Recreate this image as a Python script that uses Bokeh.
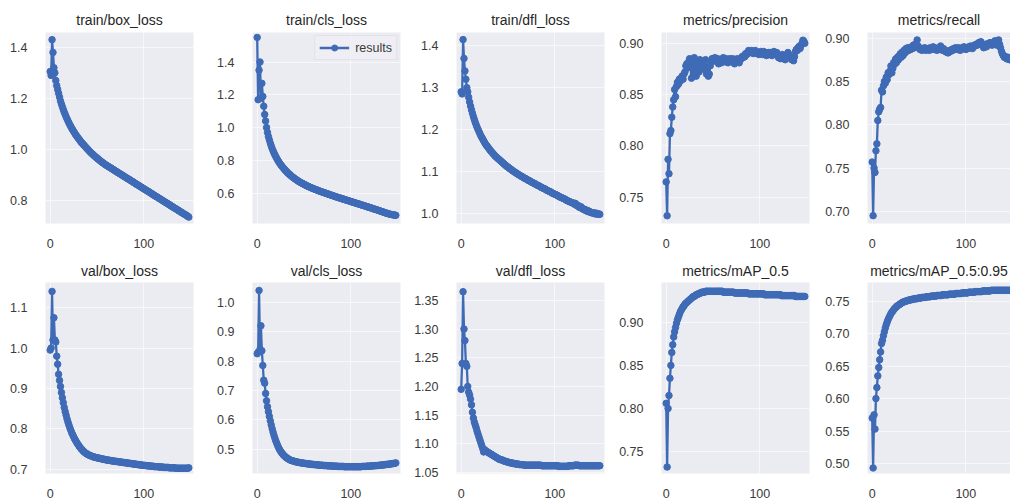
from bokeh.plotting import figure
from bokeh.layouts import column, row
from bokeh.models import Range1d, FixedTicker, PrintfTickFormatter
from bokeh.embed import file_html
from bokeh.resources import INLINE

# ---------------- data ----------------
train_box_loss = [
    1.305, 1.29, 1.43, 1.38, 1.32, 1.30, 1.27, 1.25, 1.235, 1.22,
    1.205, 1.19, 1.178, 1.167, 1.156, 1.146, 1.137, 1.128, 1.12, 1.112,
    1.104, 1.097, 1.09, 1.083, 1.077, 1.071, 1.065, 1.059, 1.054, 1.049,
    1.044, 1.039, 1.034, 1.029, 1.025, 1.021, 1.017, 1.013, 1.009, 1.005,
    1.001, 0.997, 0.993, 0.989, 0.986, 0.982, 0.979, 0.975, 0.972, 0.969,
    0.966, 0.963, 0.96, 0.957, 0.954, 0.951, 0.948, 0.946, 0.943, 0.94,
    0.938, 0.936, 0.933, 0.931, 0.929, 0.927, 0.924, 0.922, 0.920, 0.917,
    0.915, 0.913, 0.910, 0.908, 0.906, 0.904, 0.901, 0.899, 0.897, 0.894,
    0.892, 0.890, 0.887, 0.885, 0.883, 0.881, 0.878, 0.876, 0.874, 0.871,
    0.869, 0.867, 0.864, 0.862, 0.860, 0.858, 0.855, 0.853, 0.851, 0.848,
    0.846, 0.844, 0.841, 0.839, 0.837, 0.835, 0.832, 0.830, 0.828, 0.825,
    0.823, 0.821, 0.818, 0.816, 0.814, 0.812, 0.809, 0.807, 0.805, 0.802,
    0.800, 0.798, 0.795, 0.793, 0.791, 0.789, 0.786, 0.784, 0.782, 0.779,
    0.777, 0.775, 0.772, 0.770, 0.768, 0.766, 0.763, 0.761, 0.759, 0.756,
    0.754, 0.752, 0.749, 0.747, 0.745, 0.743, 0.740, 0.738, 0.735]

train_cls_loss = [
    1.55, 1.17, 1.35, 1.40, 1.18, 1.27, 1.19, 1.13, 1.08, 1.04,
    1.00, 0.97, 0.945, 0.925, 0.905, 0.888, 0.872, 0.858, 0.845, 0.833,
    0.822, 0.811, 0.801, 0.792, 0.783, 0.775, 0.767, 0.76, 0.753, 0.746,
    0.74, 0.734, 0.728, 0.722, 0.717, 0.712, 0.707, 0.702, 0.698, 0.693,
    0.689, 0.685, 0.681, 0.677, 0.673, 0.67, 0.666, 0.663, 0.66, 0.657,
    0.654, 0.651, 0.648, 0.645, 0.642, 0.64, 0.637, 0.635, 0.632, 0.63,
    0.628, 0.625, 0.623, 0.621, 0.619, 0.616, 0.614, 0.612, 0.61, 0.608,
    0.606, 0.604, 0.602, 0.60, 0.598, 0.596, 0.594, 0.592, 0.59, 0.588,
    0.586, 0.584, 0.582, 0.58, 0.578, 0.576, 0.574, 0.573, 0.571, 0.569,
    0.567, 0.565, 0.564, 0.562, 0.56, 0.558, 0.556, 0.555, 0.553, 0.551,
    0.549, 0.547, 0.545, 0.544, 0.542, 0.54, 0.538, 0.536, 0.535, 0.533,
    0.531, 0.529, 0.527, 0.526, 0.524, 0.522, 0.52, 0.518, 0.516, 0.515,
    0.513, 0.511, 0.509, 0.507, 0.505, 0.503, 0.501, 0.50, 0.498, 0.496,
    0.494, 0.492, 0.49, 0.488, 0.486, 0.484, 0.482, 0.48, 0.478, 0.476,
    0.475, 0.473, 0.471, 0.47, 0.469, 0.468, 0.467, 0.466, 0.465]

train_dfl_loss = [
    1.29, 1.285, 1.415, 1.37, 1.34, 1.32, 1.30, 1.29, 1.277, 1.266,
    1.256, 1.247, 1.239, 1.231, 1.224, 1.217, 1.211, 1.205, 1.2, 1.195,
    1.19, 1.185, 1.181, 1.177, 1.173, 1.169, 1.165, 1.162, 1.159, 1.156,
    1.153, 1.15, 1.147, 1.145, 1.142, 1.14, 1.137, 1.135, 1.133, 1.131,
    1.129, 1.127, 1.125, 1.123, 1.121, 1.119, 1.117, 1.115, 1.113, 1.111,
    1.11, 1.108, 1.106, 1.105, 1.103, 1.101, 1.10, 1.098, 1.097, 1.095,
    1.094, 1.092, 1.091, 1.09, 1.088, 1.087, 1.086, 1.084, 1.083, 1.082,
    1.081, 1.079, 1.078, 1.077, 1.076, 1.074, 1.073, 1.072, 1.071, 1.07,
    1.068, 1.067, 1.066, 1.065, 1.064, 1.062, 1.061, 1.06, 1.059, 1.058,
    1.057, 1.055, 1.054, 1.053, 1.052, 1.051, 1.05, 1.048, 1.047, 1.046,
    1.045, 1.044, 1.043, 1.042, 1.04, 1.039, 1.038, 1.037, 1.036, 1.035,
    1.034, 1.033, 1.031, 1.03, 1.029, 1.028, 1.027, 1.026, 1.025, 1.024,
    1.024, 1.021, 1.023, 1.019, 1.017, 1.018, 1.014, 1.013, 1.015, 1.011,
    1.01, 1.008, 1.009, 1.006, 1.005, 1.006, 1.003, 1.004, 1.002, 1.001,
    1.0, 1.001, 0.999, 0.998, 1.0, 0.998, 0.997, 0.998, 0.997]

precision = [
    0.765, 0.732, 0.787, 0.773, 0.812, 0.815, 0.828, 0.838, 0.845, 0.855,
    0.848, 0.858, 0.862, 0.86, 0.865, 0.863, 0.866, 0.868, 0.865, 0.87,
    0.872, 0.878, 0.88, 0.876, 0.882, 0.885, 0.878, 0.866, 0.884, 0.87,
    0.886, 0.88, 0.868, 0.882, 0.876, 0.872, 0.884, 0.878, 0.88, 0.875,
    0.88, 0.878, 0.884, 0.87, 0.875, 0.868, 0.87, 0.878, 0.882, 0.885,
    0.883, 0.885, 0.886, 0.884, 0.882, 0.885, 0.88, 0.883, 0.884, 0.881,
    0.883, 0.886, 0.884, 0.882, 0.885, 0.884, 0.881, 0.883, 0.885, 0.884,
    0.882, 0.885, 0.883, 0.88, 0.884, 0.882, 0.885, 0.883, 0.881, 0.884,
    0.885, 0.887, 0.886, 0.888, 0.887, 0.89, 0.889, 0.891, 0.893, 0.892,
    0.891, 0.893, 0.892, 0.89, 0.891, 0.893, 0.892, 0.89, 0.891, 0.889,
    0.891, 0.892, 0.89, 0.889, 0.892, 0.891, 0.89, 0.888, 0.89, 0.891,
    0.889, 0.891, 0.889, 0.888, 0.891, 0.892, 0.89, 0.889, 0.891, 0.889,
    0.886, 0.887, 0.885, 0.888, 0.889, 0.887, 0.885, 0.884, 0.887, 0.889,
    0.891, 0.889, 0.887, 0.886, 0.884, 0.885, 0.883, 0.887, 0.892, 0.894,
    0.893, 0.896, 0.897, 0.895, 0.898, 0.9, 0.903, 0.902, 0.9]

recall = [
    0.757, 0.695, 0.75, 0.745, 0.77, 0.778, 0.805, 0.815, 0.818, 0.82,
    0.84, 0.838, 0.845, 0.85, 0.848, 0.855, 0.852, 0.86, 0.858, 0.862,
    0.868, 0.86, 0.865, 0.872, 0.87, 0.876, 0.872, 0.878, 0.875, 0.88,
    0.882, 0.878, 0.884, 0.88, 0.886, 0.883, 0.888, 0.885, 0.889, 0.886,
    0.889, 0.887, 0.89, 0.888, 0.892, 0.889, 0.893, 0.89, 0.898, 0.891,
    0.889, 0.887, 0.888, 0.886, 0.888, 0.887, 0.889, 0.886, 0.888, 0.887,
    0.888, 0.886, 0.889, 0.887, 0.888, 0.89, 0.887, 0.889, 0.888, 0.886,
    0.888, 0.887, 0.889, 0.891, 0.888, 0.886, 0.888, 0.887, 0.885, 0.884,
    0.885, 0.883, 0.884, 0.886, 0.885, 0.887, 0.886, 0.888, 0.887, 0.889,
    0.888, 0.887, 0.889, 0.888, 0.886, 0.887, 0.889, 0.888, 0.89, 0.889,
    0.887, 0.889, 0.888, 0.89, 0.889, 0.891, 0.89, 0.888, 0.89, 0.892,
    0.891, 0.893, 0.892, 0.894, 0.895, 0.893, 0.896, 0.894, 0.892, 0.889,
    0.891, 0.893, 0.89, 0.892, 0.894, 0.893, 0.895, 0.894, 0.892, 0.893,
    0.895, 0.897, 0.894, 0.892, 0.896, 0.898, 0.893, 0.889, 0.885, 0.882,
    0.88, 0.878, 0.879, 0.877, 0.876, 0.878, 0.876, 0.875, 0.876]

val_box_loss = [
    0.995, 1.0, 1.14, 1.02, 1.075, 1.02, 1.015, 0.98, 0.96, 0.935,
    0.92, 0.905, 0.89, 0.877, 0.865, 0.853, 0.843, 0.834, 0.825, 0.817,
    0.81, 0.803, 0.797, 0.791, 0.786, 0.781, 0.776, 0.772, 0.768, 0.764,
    0.761, 0.757, 0.754, 0.751, 0.749, 0.746, 0.744, 0.742, 0.74, 0.739,
    0.737, 0.736, 0.735, 0.734, 0.733, 0.732, 0.731, 0.731, 0.73, 0.729,
    0.729, 0.728, 0.728, 0.727, 0.727, 0.726, 0.726, 0.725, 0.725, 0.724,
    0.724, 0.723, 0.723, 0.723, 0.722, 0.722, 0.721, 0.721, 0.721, 0.72,
    0.72, 0.72, 0.719, 0.719, 0.719, 0.718, 0.718, 0.718, 0.717, 0.717,
    0.717, 0.716, 0.716, 0.716, 0.715, 0.715, 0.715, 0.714, 0.714, 0.714,
    0.713, 0.713, 0.713, 0.712, 0.712, 0.712, 0.711, 0.711, 0.711, 0.71,
    0.71, 0.71, 0.71, 0.709, 0.709, 0.709, 0.709, 0.708, 0.708, 0.708,
    0.708, 0.707, 0.707, 0.707, 0.707, 0.707, 0.706, 0.706, 0.706, 0.706,
    0.706, 0.705, 0.705, 0.705, 0.705, 0.705, 0.705, 0.704, 0.704, 0.704,
    0.704, 0.704, 0.704, 0.704, 0.703, 0.703, 0.703, 0.703, 0.703, 0.703,
    0.703, 0.703, 0.703, 0.703, 0.703, 0.703, 0.703, 0.703, 0.704]

val_cls_loss = [
    0.825, 0.83, 1.04, 0.84, 0.92, 0.835, 0.785, 0.735, 0.725, 0.69,
    0.665, 0.645, 0.628, 0.612, 0.597, 0.583, 0.57, 0.558, 0.547, 0.537,
    0.528, 0.52, 0.512, 0.505, 0.499, 0.494, 0.489, 0.485, 0.481, 0.478,
    0.475, 0.472, 0.47, 0.468, 0.466, 0.464, 0.463, 0.462, 0.461, 0.46,
    0.459, 0.458, 0.457, 0.457, 0.456, 0.455, 0.455, 0.454, 0.454, 0.453,
    0.453, 0.452, 0.452, 0.451, 0.451, 0.45, 0.45, 0.45, 0.449, 0.449,
    0.449, 0.448, 0.448, 0.448, 0.447, 0.447, 0.447, 0.446, 0.446, 0.446,
    0.446, 0.445, 0.445, 0.445, 0.445, 0.444, 0.444, 0.444, 0.444, 0.444,
    0.443, 0.443, 0.443, 0.443, 0.443, 0.443, 0.442, 0.442, 0.442, 0.442,
    0.442, 0.442, 0.442, 0.441, 0.441, 0.441, 0.441, 0.441, 0.441, 0.441,
    0.441, 0.441, 0.441, 0.441, 0.441, 0.441, 0.441, 0.441, 0.441, 0.441,
    0.441, 0.441, 0.442, 0.442, 0.442, 0.442, 0.442, 0.443, 0.443, 0.443,
    0.443, 0.443, 0.444, 0.444, 0.444, 0.444, 0.445, 0.445, 0.445, 0.445,
    0.446, 0.446, 0.446, 0.447, 0.447, 0.447, 0.448, 0.448, 0.449, 0.449,
    0.449, 0.45, 0.45, 0.451, 0.451, 0.452, 0.452, 0.453, 0.454]

val_dfl_loss = [
    1.195, 1.24, 1.365, 1.30, 1.28, 1.24, 1.235, 1.20, 1.19, 1.185,
    1.178, 1.168, 1.155, 1.145, 1.138, 1.133, 1.128, 1.122, 1.117, 1.112,
    1.107, 1.102, 1.097, 1.092, 1.086, 1.09, 1.088, 1.087, 1.086, 1.085,
    1.084, 1.083, 1.082, 1.081, 1.08, 1.079, 1.078, 1.077, 1.076, 1.075,
    1.074, 1.073, 1.073, 1.072, 1.072, 1.071, 1.07, 1.07, 1.069, 1.069,
    1.068, 1.068, 1.067, 1.067, 1.067, 1.066, 1.066, 1.066, 1.065, 1.065,
    1.065, 1.065, 1.064, 1.064, 1.064, 1.064, 1.064, 1.063, 1.063, 1.063,
    1.063, 1.063, 1.063, 1.063, 1.063, 1.063, 1.063, 1.063, 1.063, 1.063,
    1.063, 1.063, 1.063, 1.063, 1.063, 1.063, 1.062, 1.062, 1.062, 1.062,
    1.062, 1.062, 1.062, 1.062, 1.062, 1.062, 1.062, 1.062, 1.062, 1.062,
    1.062, 1.062, 1.062, 1.062, 1.061, 1.061, 1.061, 1.061, 1.061, 1.061,
    1.061, 1.061, 1.061, 1.061, 1.061, 1.062, 1.062, 1.062, 1.062, 1.062,
    1.062, 1.063, 1.063, 1.063, 1.063, 1.063, 1.062, 1.062, 1.062, 1.062,
    1.062, 1.062, 1.062, 1.062, 1.062, 1.062, 1.062, 1.062, 1.062, 1.062,
    1.062, 1.062, 1.062, 1.062, 1.062, 1.062, 1.062, 1.062, 1.062]

map50 = [
    0.806, 0.732, 0.80, 0.815, 0.835, 0.85, 0.865, 0.874, 0.883, 0.889,
    0.894, 0.899, 0.903, 0.906, 0.909, 0.912, 0.914, 0.916, 0.918, 0.919,
    0.921, 0.922, 0.923, 0.924, 0.925, 0.926, 0.927, 0.928, 0.929, 0.93,
    0.93, 0.931, 0.932, 0.932, 0.933, 0.933, 0.934, 0.934, 0.935, 0.935,
    0.935, 0.935, 0.936, 0.936, 0.936, 0.936, 0.936, 0.936, 0.936, 0.936,
    0.936, 0.936, 0.936, 0.936, 0.936, 0.936, 0.936, 0.936, 0.936, 0.936,
    0.936, 0.935, 0.935, 0.935, 0.935, 0.935, 0.935, 0.935, 0.935, 0.935,
    0.935, 0.935, 0.935, 0.934, 0.934, 0.934, 0.934, 0.934, 0.934, 0.934,
    0.934, 0.934, 0.934, 0.934, 0.934, 0.934, 0.934, 0.934, 0.933, 0.933,
    0.933, 0.933, 0.933, 0.933, 0.933, 0.933, 0.933, 0.933, 0.933, 0.933,
    0.933, 0.933, 0.933, 0.933, 0.933, 0.932, 0.932, 0.932, 0.932, 0.932,
    0.932, 0.932, 0.932, 0.932, 0.932, 0.932, 0.932, 0.932, 0.932, 0.932,
    0.932, 0.932, 0.932, 0.931, 0.931, 0.931, 0.931, 0.931, 0.931, 0.931,
    0.931, 0.931, 0.931, 0.931, 0.931, 0.931, 0.931, 0.931, 0.930, 0.930,
    0.930, 0.930, 0.930, 0.930, 0.930, 0.930, 0.930, 0.930, 0.930]

map50_95 = [
    0.57, 0.493, 0.575, 0.553, 0.60, 0.617, 0.635, 0.648, 0.66, 0.672,
    0.685, 0.69, 0.697, 0.703, 0.709, 0.714, 0.718, 0.722, 0.725, 0.728,
    0.731, 0.733, 0.735, 0.737, 0.739, 0.74, 0.742, 0.743, 0.744, 0.745,
    0.746, 0.747, 0.748, 0.749, 0.749, 0.75, 0.75, 0.751, 0.751, 0.752,
    0.752, 0.752, 0.753, 0.753, 0.753, 0.754, 0.754, 0.754, 0.754, 0.755,
    0.755, 0.755, 0.755, 0.756, 0.756, 0.756, 0.756, 0.756, 0.757, 0.757,
    0.757, 0.757, 0.757, 0.758, 0.758, 0.758, 0.758, 0.758, 0.758, 0.759,
    0.759, 0.759, 0.759, 0.759, 0.759, 0.76, 0.76, 0.76, 0.76, 0.76,
    0.76, 0.76, 0.761, 0.761, 0.761, 0.761, 0.761, 0.761, 0.761, 0.762,
    0.762, 0.762, 0.762, 0.762, 0.762, 0.762, 0.763, 0.763, 0.763, 0.763,
    0.763, 0.763, 0.763, 0.764, 0.764, 0.764, 0.764, 0.764, 0.764, 0.764,
    0.765, 0.765, 0.765, 0.765, 0.765, 0.765, 0.765, 0.765, 0.766, 0.766,
    0.766, 0.766, 0.766, 0.766, 0.766, 0.766, 0.766, 0.767, 0.767, 0.767,
    0.767, 0.767, 0.767, 0.767, 0.767, 0.767, 0.767, 0.767, 0.767, 0.767,
    0.767, 0.767, 0.767, 0.767, 0.767, 0.767, 0.767, 0.767, 0.767]

titles = ["train/box_loss", "train/cls_loss", "train/dfl_loss", "metrics/precision", "metrics/recall",
          "val/box_loss", "val/cls_loss", "val/dfl_loss", "metrics/mAP_0.5", "metrics/mAP_0.5:0.95"]
series = [train_box_loss, train_cls_loss, train_dfl_loss, precision, recall,
          val_box_loss, val_cls_loss, val_dfl_loss, map50, map50_95]
y_limits = [(0.71, 1.458), (0.415, 1.58), (0.975, 1.432), (0.7245, 0.9105), (0.686, 0.9066),
            (0.69, 1.162), (0.418, 1.067), (1.0485, 1.381), (0.7245, 0.9462), (0.4845, 0.779)]
y_ticks = [[0.8, 1.0, 1.2, 1.4], [0.6, 0.8, 1.0, 1.2, 1.4], [1.0, 1.1, 1.2, 1.3, 1.4],
           [0.75, 0.80, 0.85, 0.90], [0.70, 0.75, 0.80, 0.85, 0.90],
           [0.7, 0.8, 0.9, 1.0, 1.1], [0.5, 0.6, 0.7, 0.8, 0.9, 1.0],
           [1.05, 1.10, 1.15, 1.20, 1.25, 1.30, 1.35], [0.75, 0.80, 0.85, 0.90],
           [0.50, 0.55, 0.60, 0.65, 0.70, 0.75]]
y_formats = ["%.1f", "%.1f", "%.1f", "%.2f", "%.2f", "%.1f", "%.1f", "%.2f", "%.2f", "%.2f"]
x_ticks = [0, 100]
legend_name = "results"

# ---------------- styling / layout ----------------
BG = "#EBEBF2"
LINE = "#3F6BB6"
TXT = "#3a3a3a"
FONT = "Liberation Sans"

col_left = [45, 46, 45, 45, 45]
col_frame = [148, 148, 148, 148, 143]
col_right = [13, 11, 12, 13, 0]
X0, XSPAN, FULL = -5.0, 158.0, 148.0


def make(i):
    r, c = divmod(i, 5)
    w = col_left[c] + col_frame[c] + col_right[c]
    h = 250 if r == 0 else 252
    xend = X0 + col_frame[c] * XSPAN / FULL
    p = figure(width=w, height=h, output_backend="svg", toolbar_location=None,
               x_range=Range1d(X0, xend), y_range=Range1d(*y_limits[i]),
               min_border_left=col_left[c], min_border_right=col_right[c],
               min_border_top=32, min_border_bottom=27 if r == 0 else 29,
               background_fill_color=BG, border_fill_color="white",
               outline_line_color=None)
    p.title.text = titles[i]
    p.title.align = "center"
    p.title.text_font = FONT
    p.title.text_font_size = "14px"
    p.title.text_font_style = "normal"
    p.title.text_color = "#262626"
    p.title.standoff = 10 if r == 0 else 7

    ys = series[i]
    xs = list(range(len(ys)))
    kw = {"legend_label": legend_name} if i == 1 else {}
    p.line(xs, ys, line_color=LINE, line_width=2.3, **kw)
    p.scatter(xs, ys, size=6.5, fill_color=LINE, line_color=LINE, **kw)

    p.xaxis.ticker = FixedTicker(ticks=x_ticks)
    p.yaxis.ticker = FixedTicker(ticks=y_ticks[i])
    p.yaxis.formatter = PrintfTickFormatter(format=y_formats[i])
    for ax in (p.xaxis[0], p.yaxis[0]):
        ax.axis_line_color = None
        ax.major_tick_line_color = None
        ax.minor_tick_line_color = None
        ax.major_label_text_font = FONT
        ax.major_label_text_font_size = "12.5px"
        ax.major_label_text_color = TXT
    p.xaxis.major_label_standoff = 9
    p.yaxis.major_label_standoff = 12
    p.grid.grid_line_color = "white"
    p.grid.grid_line_width = 1
    p.grid.grid_line_alpha = 0.6

    if i == 1:
        lg = p.legend[0]
        lg.location = "top_right"
        lg.margin = 3
        lg.padding = 4
        lg.spacing = 0
        lg.glyph_width = 30
        lg.glyph_height = 15
        lg.label_standoff = 6
        lg.label_text_font = FONT
        lg.label_text_font_size = "12.5px"
        lg.label_text_color = TXT
        lg.background_fill_color = "#EEEEF4"
        lg.background_fill_alpha = 0.85
        lg.border_line_color = "#d6d6de"
    return p


figs = [make(i) for i in range(10)]
layout = column(row(*figs[:5], spacing=0), row(*figs[5:], spacing=0), spacing=0)

open("out.html", "w").write(file_html(layout, INLINE))
